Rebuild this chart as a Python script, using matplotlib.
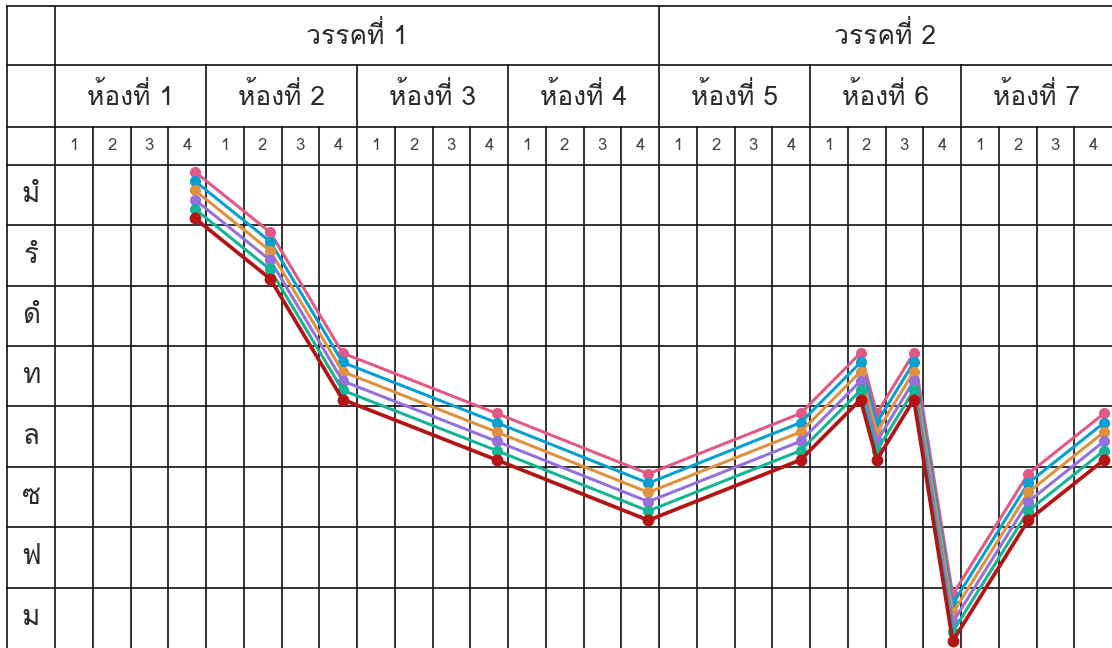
import matplotlib
matplotlib.use("Agg")
import matplotlib.pyplot as plt
from matplotlib import font_manager
from matplotlib.ft2font import FT2Font

# Note rows, bottom to top
notes = ["ม", "ฟ", "ซ", "ล", "ท", "ดํ", "รํ", "มํ"]
phrases = ["วรรคที่ 1", "วรรคที่ 2"]
bars = ["ห้องที่ 1", "ห้องที่ 2", "ห้องที่ 3", "ห้องที่ 4",
        "ห้องที่ 5", "ห้องที่ 6", "ห้องที่ 7"]
beat_labels = ["1", "2", "3", "4"]

# Melody: time in beats from the start, pitch as row index in notes
melody_time = [3.71, 5.70, 7.62, 11.70, 15.72, 19.75, 21.34, 21.77, 22.75,
               23.78, 25.78, 27.79]
melody_pitch = [7, 6, 4, 3, 2, 3, 4, 3, 4, 0, 2, 3]

series_colors = ["#e15a87", "#06a0d2", "#e0913f", "#9670dc", "#15b496", "#b41414"]


def find_thai_family():
    for f in font_manager.fontManager.ttflist:
        try:
            if 0x0E27 in FT2Font(f.fname).get_charmap():
                return f.name
        except Exception:
            continue
    return None


thai = find_thai_family()
families = ([thai] if thai else []) + ["Liberation Sans", "DejaVu Sans"]
plt.rcParams["font.family"] = families

n_beats = len(bars) * 4
beat_px = 37.75
row_px = 60.4

fig = plt.figure(figsize=(11.12, 6.48), dpi=100)
ax = fig.add_axes([0, 0, 1, 1])
x_left = -55 / beat_px
y_top = 7.5 + 165 / row_px
ax.set_xlim(x_left, (1112 - 55) / beat_px)
ax.set_ylim(-0.5, y_top)
ax.axis("off")

# header row boundaries (top frame, phrase/bar, bar/beat, beat/notes)
h_top = 7.5 + 159 / row_px
h_phrase = 7.5 + 100 / row_px
h_bar = 7.5 + 38 / row_px
frame_x = -48 / beat_px

grid = dict(color="#111111", lw=1.2, zorder=1)

# horizontal lines
for y in [h_top, h_phrase, h_bar] + [i + 0.5 for i in range(len(notes) - 1, -1, -1)]:
    if y > -0.4:
        ax.plot([frame_x, n_beats], [y, y], **grid)

# vertical lines
ax.plot([frame_x, frame_x], [-0.5, h_top], **grid)
ax.plot([0, 0], [-0.5, h_top], **grid)
for b in range(1, n_beats):
    if b == 16:
        top = h_top
    elif b % 4 == 0:
        top = h_phrase
    else:
        top = h_bar
    ax.plot([b, b], [-0.5, top], **grid)

txt = "#2a2a2a"
# phrase headers
ax.text(8, (h_top + h_phrase) / 2, phrases[0], ha="center", va="center",
        fontsize=19, color=txt)
ax.text(22, (h_top + h_phrase) / 2, phrases[1], ha="center", va="center",
        fontsize=19, color=txt)
# bar headers
for i, label in enumerate(bars):
    ax.text(i * 4 + 2, (h_phrase + h_bar) / 2, label, ha="center", va="center",
            fontsize=19, color=txt)
# beat numbers
for b in range(n_beats):
    ax.text(b + 0.5, (h_bar + 7.5) / 2, beat_labels[b % 4], ha="center",
            va="center", fontsize=12, color="#444444")
# note names
for i, name in enumerate(notes):
    ax.text(frame_x / 2, i, name, ha="center", va="center", fontsize=20, color=txt)

# melody lines, one per series, stacked around the note row centre
step = 9.3 / row_px
for k, color in enumerate(series_colors):
    off = (2.5 - k) * step
    ys = [p + off for p in melody_pitch]
    red = k == len(series_colors) - 1
    ax.plot(melody_time, ys, color=color, lw=2.7 if red else 2.2,
            marker="o", markersize=7.5 if red else 7, zorder=3 + k)

fig.savefig("out.png", dpi=100)
